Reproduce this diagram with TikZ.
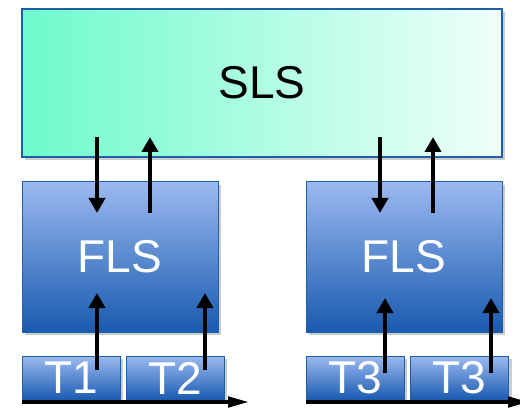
\documentclass[tikz,border=0pt]{standalone}
\usepackage{fontspec}
\newfontfamily\boxfont{Liberation Sans}
\usetikzlibrary{arrows.meta,shadows,positioning}

\definecolor{aqua}{RGB}{110,250,205}
\definecolor{lightaqua}{RGB}{240,255,252}
\definecolor{lightblue}{RGB}{155,185,240}
\definecolor{darkblue}{RGB}{25,90,175}
\definecolor{edgeblue}{RGB}{30,95,165}

\begin{document}
\begin{tikzpicture}[x=1pt, y=-1pt,
          slsbox/.style={rectangle, draw=edgeblue, line width=1.5pt, left color=aqua, right color=lightaqua,
            drop shadow={shadow xshift=3pt, shadow yshift=-3pt, fill=black!40},
            font=\boxfont\fontsize{46}{50}\selectfont},
          flsbox/.style={rectangle, draw=edgeblue, line width=1pt, top color=lightblue, bottom color=darkblue,
            text=white, drop shadow={shadow xshift=3pt, shadow yshift=-3pt, fill=black!40},
            font=\boxfont\fontsize{46}{50}\selectfont},
          tbox/.style={flsbox, minimum width=98pt, minimum height=44pt, inner sep=0pt},
          link/.style={line width=4.5pt, -{Triangle[width=16pt,length=15pt]}},
          timeline/.style={line width=4.5pt, -{Triangle[width=10pt,length=22pt]}}
        ]
          \useasboundingbox (0,0) rectangle (520,409);

          \node[slsbox, minimum width=480pt, minimum height=148pt] (sls) at (262,83) {SLS};
          \node[flsbox, minimum width=196pt, minimum height=150pt] (flsA) at (120,257) {FLS};
          \node[flsbox, minimum width=196pt, minimum height=150pt] (flsB) at (404,257) {FLS};

          \node[tbox] (t1) at (71,378) {\raisebox{-3pt}{T1}};
          \node[tbox] (t2) at (175,378) {\raisebox{-3pt}{T2}};
          \node[tbox] (t3a) at (355,378) {\raisebox{-3pt}{T3}};
          \node[tbox] (t3b) at (459.5,378) {\raisebox{-3pt}{T3}};

          % ends of the arrows between the levels
          \coordinate (downA) at (97,137);  \coordinate (downAend) at (97,213);
          \coordinate (upA) at (150,213);   \coordinate (upAend) at (150,137);
          \coordinate (downB) at (380,137); \coordinate (downBend) at (380,213);
          \coordinate (upB) at (433,213);   \coordinate (upBend) at (433,137);

          \coordinate (t1top) at (97,293);  \coordinate (t1in) at (97,370);
          \coordinate (t2top) at (205,293); \coordinate (t2in) at (205,370);
          \coordinate (t3atop) at (385,298); \coordinate (t3ain) at (385,373);
          \coordinate (t3btop) at (491,298); \coordinate (t3bin) at (491,373);

          \draw[link] (downA) -- (downAend);
          \draw[link] (upA) -- (upAend);
          \draw[link] (downB) -- (downBend);
          \draw[link] (upB) -- (upBend);

          \draw[link] (t1in) -- (t1top);
          \draw[link] (t2in) -- (t2top);
          \draw[link] (t3ain) -- (t3atop);
          \draw[link] (t3bin) -- (t3btop);

          % time axes under the tasks
          \coordinate (axisAend) at (250,402);
          \coordinate (axisBend) at (530,402);
          \draw[timeline] (t1.west |- axisAend) -- (axisAend);
          \draw[timeline] (t3a.west |- axisBend) -- (axisBend);

        \end{tikzpicture}
\end{document}
